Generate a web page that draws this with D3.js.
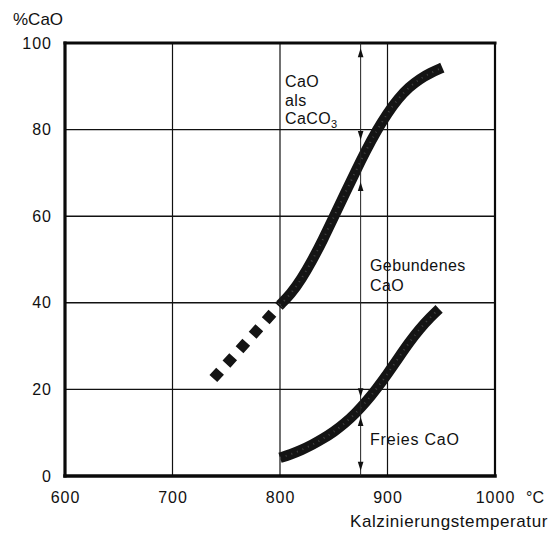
<!DOCTYPE html>
<html>
<head>
<meta charset="utf-8">
<script src="https://cdn.jsdelivr.net/npm/d3@7/dist/d3.min.js"></script>
<style>
  html, body { margin: 0; padding: 0; background: #fff; }
  svg { display: block; }
  text { font-family: "Liberation Sans", Arial, Helvetica, sans-serif; fill: #111; }
</style>
</head>
<body>
<svg id="chart" width="555" height="535"></svg>
<script>
// ---- data ----
const tempTicks = [600, 700, 800, 900, 1000];
const pctTicks = [0, 20, 40, 60, 80, 100];
const gridTemps = [700, 800, 900];
const gridPcts = [20, 40, 60, 80];

// upper band: CaO bound + free (boundary to CaO as CaCO3)
const upperT = [800, 810, 820, 830, 840, 850, 860, 870, 880, 890, 900, 910, 920, 930, 940, 951];
const upperV = [39.5, 42, 45.5, 49.8, 54.6, 59.8, 65, 70.2, 75.2, 79.8, 83.8, 87.2, 89.8, 91.7, 93.1, 94.3];
// extrapolated (dashed) part
const dashedT = [738, 800];
const dashedV = [22.5, 39.5];
// lower band: free CaO
const lowerT = [800, 810, 820, 830, 840, 850, 860, 870, 880, 890, 900, 910, 920, 930, 940, 948];
const lowerV = [4.2, 5, 6, 7.2, 8.6, 10.2, 12.1, 14.4, 17.1, 20.2, 23.6, 27.2, 30.8, 34, 36.7, 38.6];

// dimension arrow at 875 °C
const arrowTemp = 875;
const arrowHeadV = [98.8, 77.6, 67.9, 18.2, 13.6, 1.2];
const arrowHeadDir = [1, -1, 1, -1, 1, -1]; // 1 = points up, -1 = points down

const labelsYAxis = "%CaO";
const labelXUnit = "°C";
const labelXAxis = "Kalzinierungstemperatur";

// ---- layout ----
const W = 555, H = 535;
const m = { left: 65, right: 60, top: 43, bottom: 59 };
const svg = d3.select("#chart");

const x = d3.scaleLinear().domain([600, 1000]).range([m.left, W - m.right]);
const y = d3.scaleLinear().domain([0, 100]).range([H - m.bottom, m.top]);

// grid lines
svg.append("g").selectAll("line").data(gridTemps).join("line")
  .attr("x1", d => x(d)).attr("x2", d => x(d))
  .attr("y1", y(0)).attr("y2", y(100))
  .attr("stroke", "#111").attr("stroke-width", 1.2);
svg.append("g").selectAll("line").data(gridPcts).join("line")
  .attr("x1", x(600)).attr("x2", x(1000))
  .attr("y1", d => y(d)).attr("y2", d => y(d))
  .attr("stroke", "#111").attr("stroke-width", 1.4);

// frame
const frame = svg.append("g").attr("stroke", "#0a0a0a").attr("stroke-linecap", "square");
frame.append("line").attr("x1", x(600)).attr("x2", x(1000)).attr("y1", y(100)).attr("y2", y(100)).attr("stroke-width", 3);
frame.append("line").attr("x1", x(600)).attr("x2", x(1000)).attr("y1", y(0)).attr("y2", y(0)).attr("stroke-width", 3.5);
frame.append("line").attr("x1", x(600)).attr("x2", x(600)).attr("y1", y(0)).attr("y2", y(100)).attr("stroke-width", 3.2);
frame.append("line").attr("x1", x(1000)).attr("x2", x(1000)).attr("y1", y(0)).attr("y2", y(100)).attr("stroke-width", 2.2);

// axes (labels only)
const xAxis = d3.axisBottom(x).tickValues(tempTicks).tickSize(0).tickPadding(16).tickFormat(d3.format("d"));
const gx = svg.append("g").attr("transform", `translate(0,${y(0)})`).call(xAxis);
gx.select(".domain").remove();
gx.selectAll("text").attr("font-size", 16).attr("letter-spacing", 1)
  .attr("font-family", "Liberation Sans, Arial, sans-serif").attr("fill", "#111");

const yAxis = d3.axisLeft(y).tickValues(pctTicks).tickSize(0).tickPadding(13).tickFormat(d3.format("d"));
const gy = svg.append("g").attr("transform", `translate(${x(600)},0)`).call(yAxis);
gy.select(".domain").remove();
gy.selectAll("text").attr("font-size", 16).attr("letter-spacing", 1)
  .attr("font-family", "Liberation Sans, Arial, sans-serif").attr("fill", "#111");

// axis titles
svg.append("text").attr("x", 13).attr("y", 25).attr("font-size", 17).text(labelsYAxis);
svg.append("text").attr("x", x(1000) + 31).attr("y", y(0) + 27).attr("font-size", 16).text(labelXUnit);
svg.append("text").attr("x", 548).attr("y", 527).attr("text-anchor", "end")
  .attr("font-size", 17).attr("letter-spacing", 0.6).text(labelXAxis);

// curves
const line = d3.line().x(d => x(d[0])).y(d => y(d[1])).curve(d3.curveBasis);
const upper = d3.zip(upperT, upperV);
const lower = d3.zip(lowerT, lowerV);
const dashed = d3.zip(dashedT, dashedV);

function band(pts) {
  svg.append("path").datum(pts).attr("d", line)
    .attr("fill", "none").attr("stroke", "#141414").attr("stroke-width", 10.5)
    .attr("stroke-linecap", "butt");
  // light speckle texture
  svg.append("path").datum(pts).attr("d", line)
    .attr("fill", "none").attr("stroke", "#fff").attr("stroke-width", 2)
    .attr("stroke-dasharray", "1,5").attr("opacity", 0.2);
}
band(upper);
band(lower);
svg.append("path").datum(dashed).attr("d", line)
  .attr("fill", "none").attr("stroke", "#141414").attr("stroke-width", 10.5)
  .attr("stroke-dasharray", "10,9.5");

// dimension arrow
const ax = x(arrowTemp);
svg.append("line").attr("x1", ax).attr("x2", ax).attr("y1", y(100)).attr("y2", y(0))
  .attr("stroke", "#222").attr("stroke-width", 1);
svg.append("g").selectAll("path").data(d3.zip(arrowHeadV, arrowHeadDir)).join("path")
  .attr("d", d => {
    const ty = y(d[0]), by = ty + 9 * d[1];
    return `M${ax},${ty}L${ax - 2.8},${by}L${ax + 2.8},${by}Z`;
  })
  .attr("fill", "#111");

// annotations
const ann = svg.append("g").attr("font-size", 16).attr("letter-spacing", 0.4);
ann.append("text").attr("x", 285).attr("y", 87).text("CaO");
ann.append("text").attr("x", 285).attr("y", 106).text("als");
const t3 = ann.append("text").attr("x", 285).attr("y", 124);
t3.append("tspan").text("CaCO");
t3.append("tspan").attr("font-size", 11).attr("dy", 4).text("3");
ann.append("text").attr("x", 370).attr("y", 271).text("Gebundenes");
ann.append("text").attr("x", 370).attr("y", 291).text("CaO");
ann.append("text").attr("x", 370).attr("y", 445).attr("letter-spacing", 0.8).text("Freies CaO");
</script>
</body>
</html>
